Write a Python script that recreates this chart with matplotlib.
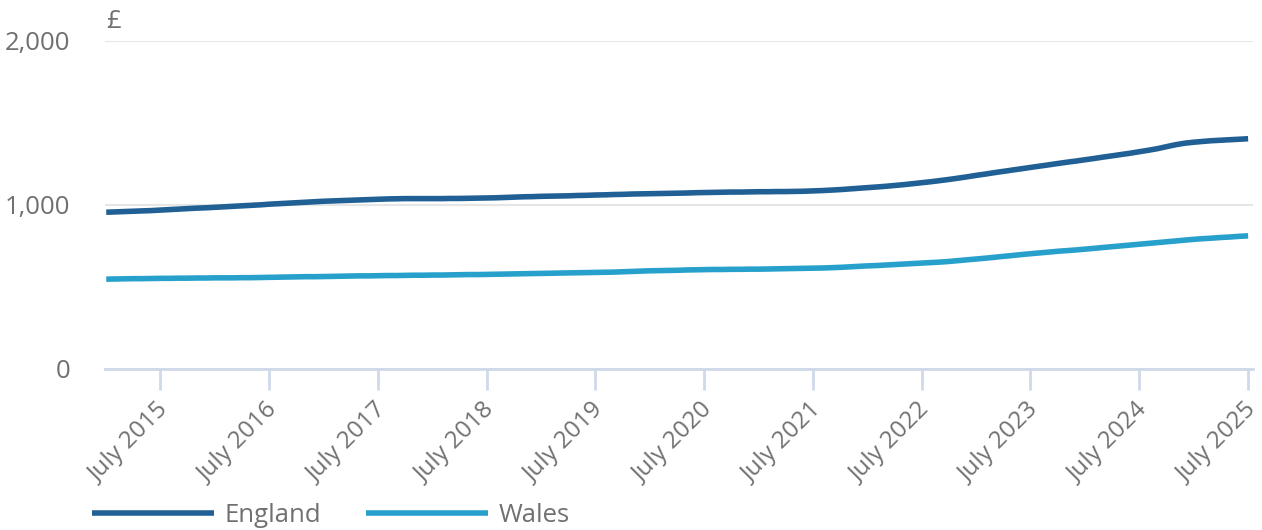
import numpy as np
import pandas as pd
import matplotlib.pyplot as plt
import matplotlib.transforms as mtransforms

# Monthly average rent, Jan 2015 - Jul 2025
england = [
    955, 957, 959, 961, 963, 965, 968, 971, 974, 977, 980, 982,
    985, 988, 991, 994, 997, 1000, 1004, 1007, 1010, 1013, 1016, 1019,
    1022, 1024, 1026, 1028, 1030, 1032, 1034, 1036, 1037, 1038, 1038, 1038,
    1038, 1038, 1039, 1039, 1040, 1041, 1042, 1043, 1045, 1047, 1049, 1050,
    1052, 1053, 1054, 1055, 1057, 1058, 1060, 1061, 1063, 1064, 1066, 1067,
    1068, 1069, 1070, 1071, 1072, 1074, 1075, 1076, 1077, 1078, 1078, 1079,
    1080, 1080, 1081, 1081, 1082, 1083, 1085, 1087, 1090, 1093, 1097, 1101,
    1105, 1109, 1113, 1118, 1123, 1129, 1135, 1141, 1148, 1155, 1163, 1171,
    1180, 1188, 1196, 1204, 1212, 1220, 1228, 1236, 1244, 1252, 1260, 1267,
    1275, 1283, 1291, 1299, 1307, 1315, 1324, 1333, 1343, 1355, 1367, 1376,
    1382, 1387, 1391, 1394, 1397, 1400, 1403,
]
wales = [
    547, 548, 549, 550, 550, 551, 552, 552, 553, 553, 554, 554,
    555, 555, 555, 556, 556, 557, 558, 559, 560, 561, 562, 562,
    563, 564, 565, 566, 567, 567, 568, 569, 569, 570, 571, 571,
    572, 572, 573, 574, 575, 575, 576, 577, 578, 579, 580, 581,
    582, 583, 584, 585, 586, 587, 588, 589, 590, 592, 594, 596,
    598, 599, 600, 601, 603, 604, 605, 606, 606, 607, 607, 608,
    608, 609, 610, 611, 612, 613, 614, 615, 617, 619, 622, 625,
    628, 630, 633, 636, 639, 642, 645, 648, 651, 655, 660, 665,
    670, 675, 680, 686, 691, 697, 702, 707, 712, 717, 721, 725,
    730, 735, 740, 745, 750, 755, 760, 765, 770, 775, 780, 785,
    790, 794, 797, 801, 804, 808, 811,
]
months = pd.date_range("2015-01-01", periods=len(england), freq="MS")
tick_dates = pd.date_range("2015-07-01", "2025-07-01", freq="12MS")
tick_labels = [d.strftime("July %Y") for d in tick_dates]

dark_blue = "#206095"
light_blue = "#27a0cc"
text_grey = "#707070"
axis_col = "#cfd9ea"
fs = 18.5

plt.rcParams['font.family'] = ['Open Sans', 'DejaVu Sans']
fig = plt.figure(figsize=(12.62, 5.30), dpi=100)
ax = fig.add_axes([0.083, 0.304, 0.910, 0.619])

ax.plot(months, england, color=dark_blue, lw=4, solid_capstyle='butt', label="England")
ax.plot(months, wales, color=light_blue, lw=4, solid_capstyle='butt', label="Wales")

ax.set_ylim(0, 2000)
ax.set_yticks([0, 1000, 2000])
ax.set_yticklabels(["0", "1,000", "2,000"])
ax.set_xlim(pd.Timestamp("2014-12-27"), pd.Timestamp("2025-07-18"))
ax.set_xticks(tick_dates)
ax.set_xticklabels(tick_labels, rotation=45, ha='right', va='center', rotation_mode='anchor')

ax.grid(axis='y', color='#e6e6e6', lw=1.5)
ax.set_axisbelow(True)
for s in ['top', 'right', 'left']:
    ax.spines[s].set_visible(False)
ax.spines['bottom'].set_color(axis_col)
ax.spines['bottom'].set_linewidth(2)
ax.tick_params(axis='y', length=0, pad=25, labelsize=fs, labelcolor=text_grey)
ax.tick_params(axis='x', length=15, width=2, color=axis_col, pad=12,
               labelsize=17.5, labelcolor=text_grey)

# nudge rotated labels a little to the right, like the original
shift = mtransforms.ScaledTranslation(5 / 100, 0, fig.dpi_scale_trans)
for lbl in ax.get_xticklabels():
    lbl.set_transform(lbl.get_transform() + shift)

fig.text(0.084, 0.935, "£", fontsize=fs, color=text_grey, ha='left', va='bottom')

fig.legend(loc='lower left', bbox_to_anchor=(0.059, -0.031), ncol=2, frameon=False,
           fontsize=fs, labelcolor=text_grey, handlelength=4.75,
           handletextpad=0.4, columnspacing=1.75, borderaxespad=0.3)

fig.savefig("out.png", dpi=100)
